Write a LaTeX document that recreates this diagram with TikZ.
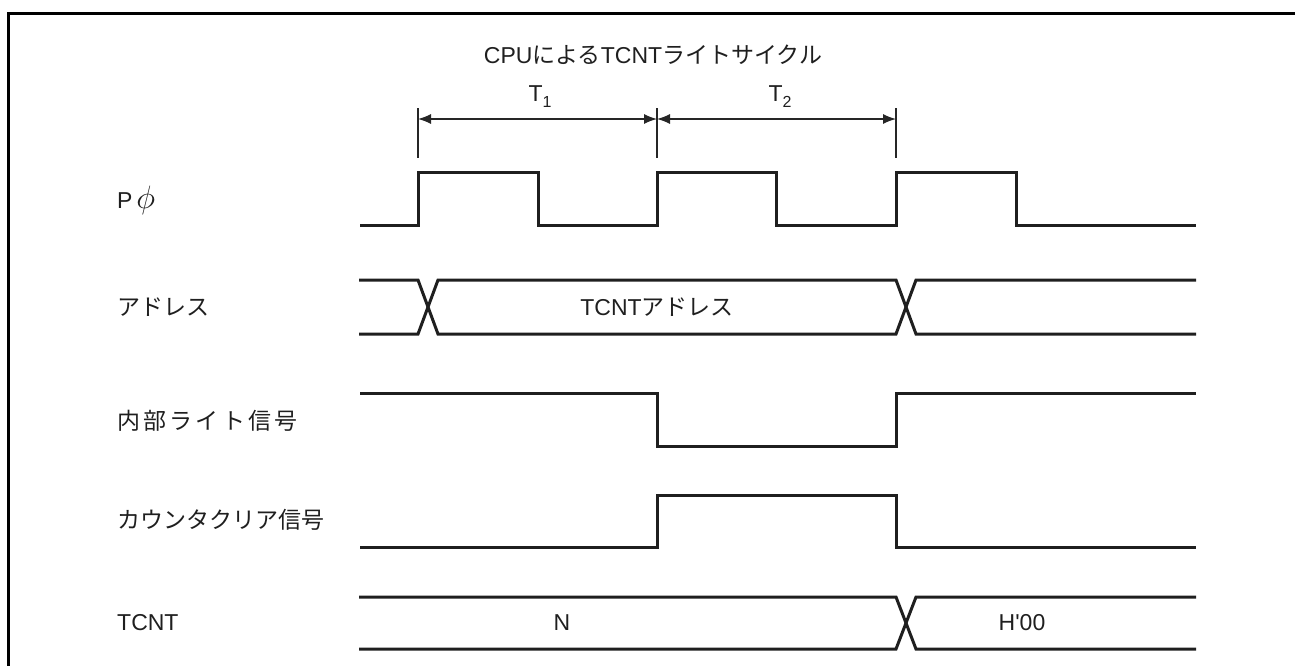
\documentclass[tikz,border=0pt]{standalone}
\usepackage{fontspec}
\setmainfont{Liberation Sans}[Ligatures=TeXOff]
\newfontfamily\jp{Noto Sans CJK JP}
\newfontfamily\jpw[LetterSpace=14]{Noto Sans CJK JP}
\usetikzlibrary{arrows.meta}
\begin{document}
\begin{tikzpicture}[x=1pt,y=-1pt,
  sig/.style={line width=3pt,draw=black!88,line join=miter},
  thinln/.style={line width=1.3pt,draw=black!85},
  dim/.style={thinln,{Latex[length=13pt,width=10pt]}-{Latex[length=13pt,width=10pt]}},
  lbl/.style={anchor=west,inner sep=0pt,font=\fontsize{23}{27}\selectfont,text=black!88},
  txt/.style={inner sep=0pt,font=\fontsize{23}{27}\selectfont,text=black!88}]
\useasboundingbox (0,0) rectangle (1295,665);
% frame
\draw[line width=3pt] (8,680) -- (8,13) -- (1310,13);
% title
\node[txt] (title) at (653,55) {CPU{\jp による}TCNT{\jp ライトサイクル}};
% dimension
\coordinate (t0) at (418,119);
\coordinate (t1) at (657,119);
\coordinate (t2) at (896,119);
\draw[thinln] (418,108) -- (418,158);
\draw[thinln] (657,108) -- (657,158);
\draw[thinln] (896,108) -- (896,158);
\draw[dim] (t0) -- (t1);
\draw[dim] (t1) -- (t2);
\node[txt] (T1) at (540,97) {T\raisebox{-6pt}{\fontsize{16}{16}\selectfont 1}};
\node[txt] (T2) at (780,97) {T\raisebox{-6pt}{\fontsize{16}{16}\selectfont 2}};
% labels
\node[lbl] (lphi) at (117,200) {P\,\scalebox{1.3}{$\phi$}};
\node[lbl] (laddr) at (117,307) {\jp アドレス};
\node[lbl] (lwr) at (117,421) {\jpw 内部ライト信号};
\node[lbl] (lclr) at (117,520) {\jp カウンタクリア信号};
\node[lbl] (ltcnt) at (117,623) {TCNT};
% P phi
\draw[sig] (360,225) -- (418,225) -- (418,172) -- (538,172) -- (538,225) -- (657,225) -- (657,172) -- (776,172) -- (776,225) -- (896,225) -- (896,172) -- (1016,172) -- (1016,225) -- (1196,225);
% address
\draw[sig] (359,280) -- (418,280) -- (438,334) -- (896,334) -- (916,280) -- (1196,280);
\draw[sig] (359,334) -- (418,334) -- (438,280) -- (896,280) -- (916,334) -- (1196,334);
\node[txt] (addr) at (657,307) {TCNT{\jp アドレス}};
% internal write
\draw[sig] (360,393) -- (657,393) -- (657,446) -- (896,446) -- (896,393) -- (1196,393);
% counter clear
\draw[sig] (360,547) -- (657,547) -- (657,495) -- (896,495) -- (896,547) -- (1196,547);
% TCNT
\draw[sig] (359,597) -- (896,597) -- (916,649) -- (1196,649);
\draw[sig] (359,649) -- (896,649) -- (916,597) -- (1196,597);
\node[txt] (n) at (562,623) {N};
\node[txt] (h00) at (1022,623) {H'00};
\end{tikzpicture}
\end{document}
